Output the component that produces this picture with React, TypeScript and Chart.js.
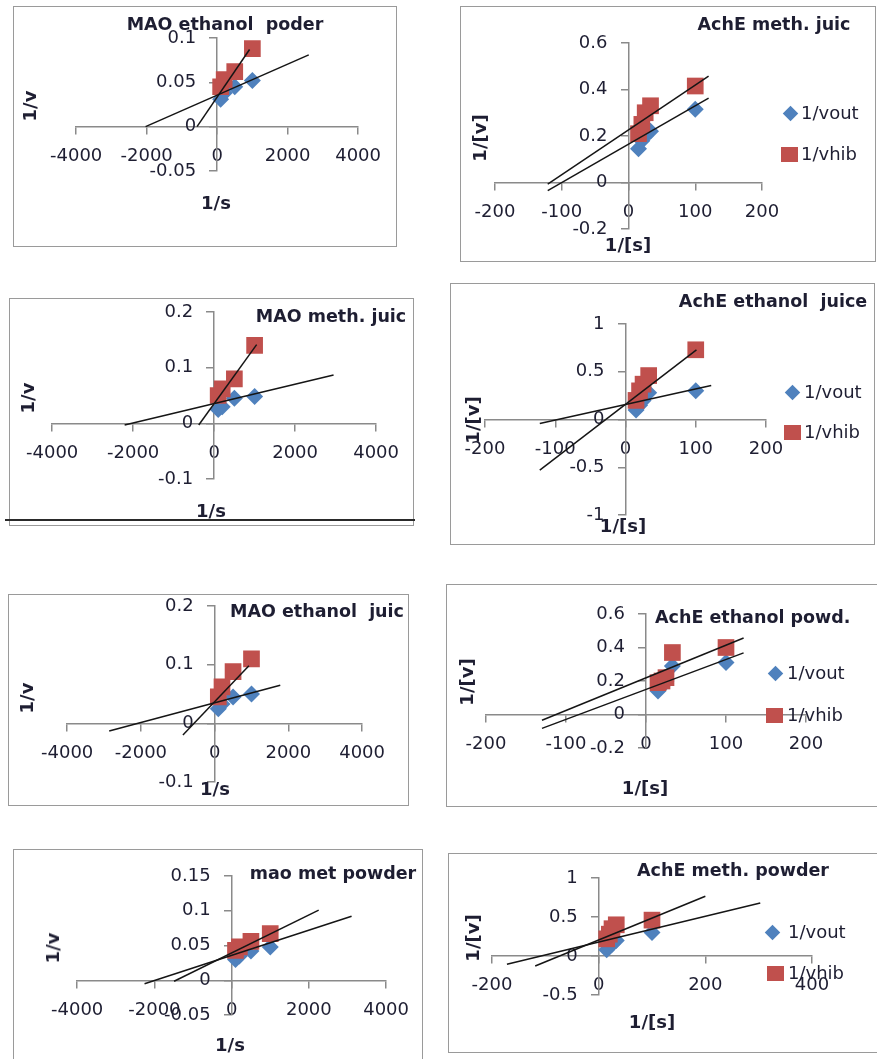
import React, { useEffect, useRef } from 'react';
import { Chart, registerables, LinearScale } from 'chart.js';

Chart.register(...registerables);

// y axis crossing at x = 0: Chart.js puts the labels right on the axis line,
// so this scale moves them to the left of the tick marks (Excel style).
const Y_LABEL_SHIFT = 21;
class CrossYScale extends (LinearScale as any) {
  static id = 'crossY';
  static defaults = (LinearScale as any).defaults;
  _computeLabelItems(chartArea: any) {
    const items = super._computeLabelItems(chartArea);
    for (const it of items) {
      const tr = it.options.translation;
      it.options.translation = [tr[0] - Y_LABEL_SHIFT, tr[1]];
    }
    return items;
  }
}
Chart.register(CrossYScale as any);

// ---------- data ----------
const MAO_S = [100, 200, 500, 1000];
const ACHE_S = [15, 20, 25, 33, 100];

const MAO_X_TICKS = [-4000, -2000, 0, 2000, 4000];
const ACHE_X_TICKS = [-200, -100, 0, 100, 200];
const P8_X_TICKS = [-200, 0, 200, 400];

const P1_Y_TICKS = [-0.05, 0, 0.05, 0.1];
const P2_Y_TICKS = [-0.2, 0, 0.2, 0.4, 0.6];
const P3_Y_TICKS = [-0.1, 0, 0.1, 0.2];
const P4_Y_TICKS = [-1, -0.5, 0, 0.5, 1];
const P5_Y_TICKS = [-0.1, 0, 0.1, 0.2];
const P6_Y_TICKS = [-0.2, 0, 0.2, 0.4, 0.6];
const P7_Y_TICKS = [-0.05, 0, 0.05, 0.1, 0.15];
const P8_Y_TICKS = [-0.5, 0, 0.5, 1];

// panel 1: MAO ethanol poder
const P1_OUT = [0.031, 0.038, 0.045, 0.052];
const P1_HIB = [0.045, 0.053, 0.062, 0.088];
const P1_TREND_OUT_X = [-2030, 2600];
const P1_TREND_OUT_Y = [0, 0.081];
const P1_TREND_HIB_X = [-570, 920];
const P1_TREND_HIB_Y = [0, 0.087];

// panel 2: AchE meth. juic
const P2_OUT = [0.145, 0.18, 0.2, 0.22, 0.315];
const P2_HIB = [0.21, 0.25, 0.3, 0.33, 0.415];
const P2_TREND_OUT_X = [-121, 120];
const P2_TREND_OUT_Y = [-0.035, 0.363];
const P2_TREND_HIB_X = [-121, 120];
const P2_TREND_HIB_Y = [-0.007, 0.457];

// panel 3: MAO meth. juic
const P3_OUT = [0.025, 0.03, 0.045, 0.048];
const P3_HIB = [0.05, 0.062, 0.08, 0.14];
const P3_TREND_OUT_X = [-2210, 2950];
const P3_TREND_OUT_Y = [-0.003, 0.087];
const P3_TREND_HIB_X = [-380, 1050];
const P3_TREND_HIB_Y = [-0.003, 0.1415];

// panel 4: AchE ethanol juice
const P4_OUT = [0.1, 0.15, 0.2, 0.28, 0.3];
const P4_HIB = [0.2, 0.3, 0.37, 0.46, 0.73];
const P4_TREND_OUT_X = [-122, 122];
const P4_TREND_OUT_Y = [-0.042, 0.355];
const P4_TREND_HIB_X = [-122, 101];
const P4_TREND_HIB_Y = [-0.53, 0.73];

// panel 5: MAO ethanol juic
const P5_OUT = [0.025, 0.033, 0.045, 0.05];
const P5_HIB = [0.045, 0.062, 0.088, 0.11];
const P5_TREND_OUT_X = [-2860, 1780];
const P5_TREND_OUT_Y = [-0.013, 0.065];
const P5_TREND_HIB_X = [-860, 930];
const P5_TREND_HIB_Y = [-0.02, 0.098];

// panel 6: AchE ethanol powd.
const P6_OUT = [0.14, 0.17, 0.2, 0.29, 0.31];
const P6_HIB = [0.19, 0.2, 0.22, 0.37, 0.4];
const P6_TREND_OUT_X = [-130, 122];
const P6_TREND_OUT_Y = [-0.083, 0.368];
const P6_TREND_HIB_X = [-130, 122];
const P6_TREND_HIB_Y = [-0.034, 0.457];

// panel 7: mao met powder
const P7_OUT = [0.03, 0.035, 0.042, 0.048];
const P7_HIB = [0.043, 0.048, 0.056, 0.067];
const P7_TREND_OUT_X = [-2255, 3106];
const P7_TREND_OUT_Y = [-0.005, 0.092];
const P7_TREND_HIB_X = [-1490, 2255];
const P7_TREND_HIB_Y = [-0.0014, 0.101];

// panel 8: AchE meth. powder
const P8_OUT = [0.08, 0.12, 0.15, 0.2, 0.3];
const P8_HIB = [0.22, 0.28, 0.35, 0.4, 0.46];
const P8_TREND_OUT_X = [-172, 303];
const P8_TREND_OUT_Y = [-0.106, 0.68];
const P8_TREND_HIB_X = [-119, 200];
const P8_TREND_HIB_Y = [-0.128, 0.766];

const LEGEND_OUT = '1/vout';
const LEGEND_HIB = '1/vhib';

// ---------- style ----------
const FONT = '"DejaVu Sans", sans-serif';
const TEXT = '#1e1e32';
const AXIS = '#8a8a8a';
const BLUE = '#4F81BD';
const RED = '#C0504D';
const PAD = 34;

type Panel = {
  area: [number, number, number, number];
  frame: [number, number, number, number];
  xRange: [number, number];
  yRange: [number, number];
  xTicks: number[];
  yTicks: number[];
  s: number[];
  out: number[];
  hib: number[];
  tOutX: number[]; tOutY: number[];
  tHibX: number[]; tHibY: number[];
  title: string;
  titlePos: [number, number];
  titleLeft?: boolean;
  xTitle: string; xTitlePos: [number, number];
  yTitle: string; yTitlePos: [number, number];
  legend?: { d: [number, number]; s: [number, number]; textX: number };
  bottomLine?: boolean;
};

const PANELS: Panel[] = [
  {
    area: [72, 38.3, 358.7, 171], frame: [13, 6, 397, 247],
    xRange: [-4000, 4000], yRange: [-0.05, 0.1], xTicks: MAO_X_TICKS, yTicks: P1_Y_TICKS,
    s: MAO_S, out: P1_OUT, hib: P1_HIB,
    tOutX: P1_TREND_OUT_X, tOutY: P1_TREND_OUT_Y, tHibX: P1_TREND_HIB_X, tHibY: P1_TREND_HIB_Y,
    title: 'MAO ethanol  poder', titlePos: [225, 25],
    xTitle: '1/s', xTitlePos: [216, 203], yTitle: '1/v', yTitlePos: [30, 106],
  },
  {
    area: [495, 43.3, 762.3, 229.3], frame: [460, 6, 876, 262],
    xRange: [-200, 200], yRange: [-0.2, 0.6], xTicks: ACHE_X_TICKS, yTicks: P2_Y_TICKS,
    s: ACHE_S, out: P2_OUT, hib: P2_HIB,
    tOutX: P2_TREND_OUT_X, tOutY: P2_TREND_OUT_Y, tHibX: P2_TREND_HIB_X, tHibY: P2_TREND_HIB_Y,
    title: 'AchE meth. juic', titlePos: [774, 25],
    xTitle: '1/[s]', xTitlePos: [628, 245], yTitle: '1/[v]', yTitlePos: [480, 138],
    legend: { d: [790, 113], s: [789, 154], textX: 801 },
  },
  {
    area: [47.7, 312.3, 376.7, 479], frame: [9, 298, 414, 526],
    xRange: [-4000, 4000], yRange: [-0.1, 0.2], xTicks: MAO_X_TICKS, yTicks: P3_Y_TICKS,
    s: MAO_S, out: P3_OUT, hib: P3_HIB,
    tOutX: P3_TREND_OUT_X, tOutY: P3_TREND_OUT_Y, tHibX: P3_TREND_HIB_X, tHibY: P3_TREND_HIB_Y,
    title: 'MAO meth. juic', titlePos: [331, 317],
    xTitle: '1/s', xTitlePos: [211, 511], yTitle: '1/v', yTitlePos: [28, 398],
    bottomLine: true,
  },
  {
    area: [485, 324.3, 766, 515], frame: [450, 283, 875, 545],
    xRange: [-200, 200], yRange: [-1, 1], xTicks: ACHE_X_TICKS, yTicks: P4_Y_TICKS,
    s: ACHE_S, out: P4_OUT, hib: P4_HIB,
    tOutX: P4_TREND_OUT_X, tOutY: P4_TREND_OUT_Y, tHibX: P4_TREND_HIB_X, tHibY: P4_TREND_HIB_Y,
    title: 'AchE ethanol  juice', titlePos: [773, 302],
    xTitle: '1/[s]', xTitlePos: [623, 526], yTitle: '1/[v]', yTitlePos: [473, 420],
    legend: { d: [792, 392], s: [792, 432], textX: 804 },
  },
  {
    area: [63.3, 606, 363.3, 781.7], frame: [8, 594, 409, 806],
    xRange: [-4000, 4000], yRange: [-0.1, 0.2], xTicks: MAO_X_TICKS, yTicks: P5_Y_TICKS,
    s: MAO_S, out: P5_OUT, hib: P5_HIB,
    tOutX: P5_TREND_OUT_X, tOutY: P5_TREND_OUT_Y, tHibX: P5_TREND_HIB_X, tHibY: P5_TREND_HIB_Y,
    title: 'MAO ethanol  juic', titlePos: [317, 612],
    xTitle: '1/s', xTitlePos: [215, 789], yTitle: '1/v', yTitlePos: [27, 698],
  },
  {
    area: [486, 614.3, 806, 748.3], frame: [446, 584, 880, 807],
    xRange: [-200, 200], yRange: [-0.2, 0.6], xTicks: ACHE_X_TICKS, yTicks: P6_Y_TICKS,
    s: ACHE_S, out: P6_OUT, hib: P6_HIB,
    tOutX: P6_TREND_OUT_X, tOutY: P6_TREND_OUT_Y, tHibX: P6_TREND_HIB_X, tHibY: P6_TREND_HIB_Y,
    title: 'AchE ethanol powd.', titlePos: [655, 618], titleLeft: true,
    xTitle: '1/[s]', xTitlePos: [645, 788], yTitle: '1/[v]', yTitlePos: [467, 682],
    legend: { d: [775, 673], s: [774, 715], textX: 787 },
  },
  {
    area: [72.7, 875.7, 386.7, 1015], frame: [13, 849, 423, 1075],
    xRange: [-4000, 4000], yRange: [-0.05, 0.15], xTicks: MAO_X_TICKS, yTicks: P7_Y_TICKS,
    s: MAO_S, out: P7_OUT, hib: P7_HIB,
    tOutX: P7_TREND_OUT_X, tOutY: P7_TREND_OUT_Y, tHibX: P7_TREND_HIB_X, tHibY: P7_TREND_HIB_Y,
    title: 'mao met powder', titlePos: [333, 874],
    xTitle: '1/s', xTitlePos: [230, 1045], yTitle: '1/v', yTitlePos: [53, 948],
  },
  {
    area: [491.7, 878.3, 811.7, 995], frame: [448, 853, 880, 1053],
    xRange: [-200, 400], yRange: [-0.5, 1], xTicks: P8_X_TICKS, yTicks: P8_Y_TICKS,
    s: ACHE_S, out: P8_OUT, hib: P8_HIB,
    tOutX: P8_TREND_OUT_X, tOutY: P8_TREND_OUT_Y, tHibX: P8_TREND_HIB_X, tHibY: P8_TREND_HIB_Y,
    title: 'AchE meth. powder', titlePos: [733, 871],
    xTitle: '1/[s]', xTitlePos: [652, 1022], yTitle: '1/[v]', yTitlePos: [473, 938],
    legend: { d: [772, 932], s: [775, 973], textX: 788 },
  },
];

const pts = (xs: number[], ys: number[]) => xs.map((x, i) => ({ x, y: ys[i] }));
const fmt = (v: any) => String(Math.round(Number(v) * 1000) / 1000);

function PanelChart({ p }: { p: Panel }) {
  const ref = useRef<HTMLCanvasElement | null>(null);
  const [l, t, r, b] = p.area;
  const w = Math.round(r - l + 2 * PAD);
  const h = Math.round(b - t + 2 * PAD);

  useEffect(() => {
    if (!ref.current) return;
    const tickFont = { family: FONT, size: 18 };
    const chart = new Chart(ref.current, {
      type: 'scatter',
      data: {
        datasets: [
          { label: 'trend hib', data: pts(p.tHibX, p.tHibY), showLine: true, borderColor: '#151515', borderWidth: 1.5, pointRadius: 0, fill: false },
          { label: 'trend out', data: pts(p.tOutX, p.tOutY), showLine: true, borderColor: '#151515', borderWidth: 1.5, pointRadius: 0, fill: false },
          { label: LEGEND_HIB, data: pts(p.s, p.hib), pointStyle: 'rect', pointRadius: 11.8, backgroundColor: RED, borderColor: RED, borderWidth: 0, showLine: false },
          { label: LEGEND_OUT, data: pts(p.s, p.out), pointStyle: 'rectRot', pointRadius: 8.5, backgroundColor: BLUE, borderColor: BLUE, borderWidth: 0, showLine: false },
        ] as any,
      },
      options: {
        animation: false,
        responsive: false,
        maintainAspectRatio: false,
        events: [],
        layout: { padding: PAD },
        plugins: { legend: { display: false }, title: { display: false }, tooltip: { enabled: false } },
        scales: {
          x: {
            type: 'linear', min: p.xRange[0], max: p.xRange[1],
            position: { y: 0 } as any,
            afterBuildTicks: (s: any) => { s.ticks = p.xTicks.map((v) => ({ value: v })); },
            afterFit: (s: any) => { s.height = 0; },
            ticks: { autoSkip: false, maxRotation: 0, padding: 12, color: TEXT, font: tickFont, callback: fmt },
            grid: { drawOnChartArea: false, drawTicks: true, tickLength: 7, color: AXIS, lineWidth: 1.5 },
            border: { color: AXIS, width: 1.5 },
          },
          y: {
            type: 'crossY', min: p.yRange[0], max: p.yRange[1],
            position: { x: 0 } as any,
            afterBuildTicks: (s: any) => { s.ticks = p.yTicks.map((v) => ({ value: v })); },
            afterFit: (s: any) => { s.width = 0; },
            ticks: { autoSkip: false, padding: 10, color: TEXT, font: tickFont, callback: fmt },
            grid: { drawOnChartArea: false, drawTicks: true, tickLength: 7, color: AXIS, lineWidth: 1.5 },
            border: { color: AXIS, width: 1.5 },
          },
        },
      } as any,
    });
    return () => chart.destroy();
  }, []);

  return (
    <canvas
      ref={ref}
      width={w}
      height={h}
      style={{ position: 'absolute', left: l - PAD, top: t - PAD, width: w, height: h }}
    />
  );
}

const textBase: React.CSSProperties = {
  position: 'absolute',
  fontFamily: FONT,
  color: TEXT,
  whiteSpace: 'pre',
  lineHeight: 1,
};

function Overlay({ p }: { p: Panel }) {
  const [fl, ft, fr, fb] = p.frame;
  return (
    <>
      <div style={{ position: 'absolute', left: fl, top: ft, width: fr - fl, height: fb - ft, border: '1.5px solid #9a9a9a', boxSizing: 'border-box' }} />
      {p.bottomLine && (
        <div style={{ position: 'absolute', left: 5, top: 519, width: 410, height: 2, background: '#2a2a2a' }} />
      )}
    </>
  );
}

function Texts({ p }: { p: Panel }) {
  return (
    <>
      <div
        style={{
          ...textBase,
          fontWeight: 'bold',
          fontSize: 17.5,
          left: p.titlePos[0],
          top: p.titlePos[1],
          transform: p.titleLeft ? 'translate(0,-50%)' : 'translate(-50%,-50%)',
        }}
      >
        {p.title}
      </div>
      <div style={{ ...textBase, fontWeight: 'bold', fontSize: 18, left: p.xTitlePos[0], top: p.xTitlePos[1], transform: 'translate(-50%,-50%)' }}>
        {p.xTitle}
      </div>
      <div style={{ ...textBase, fontWeight: 'bold', fontSize: 18, left: p.yTitlePos[0], top: p.yTitlePos[1], transform: 'translate(-50%,-50%) rotate(-90deg)' }}>
        {p.yTitle}
      </div>
      {p.legend && (
        <>
          <div style={{ position: 'absolute', left: p.legend.d[0] - 5.5, top: p.legend.d[1] - 5.5, width: 11, height: 11, background: BLUE, transform: 'rotate(45deg)' }} />
          <div style={{ ...textBase, fontSize: 18, left: p.legend.textX, top: p.legend.d[1], transform: 'translate(0,-50%)' }}>{LEGEND_OUT}</div>
          <div style={{ position: 'absolute', left: p.legend.s[0] - 8.5, top: p.legend.s[1] - 7.5, width: 17, height: 15, background: RED }} />
          <div style={{ ...textBase, fontSize: 18, left: p.legend.textX, top: p.legend.s[1], transform: 'translate(0,-50%)' }}>{LEGEND_HIB}</div>
        </>
      )}
    </>
  );
}

export default function App() {
  return (
    <div style={{ position: 'absolute', left: 0, top: 0, width: 877, height: 1059, overflow: 'hidden', background: '#ffffff' }}>
      {PANELS.map((p, i) => <Overlay key={'o' + i} p={p} />)}
      {PANELS.map((p, i) => <PanelChart key={'c' + i} p={p} />)}
      {PANELS.map((p, i) => <Texts key={'t' + i} p={p} />)}
    </div>
  );
}
